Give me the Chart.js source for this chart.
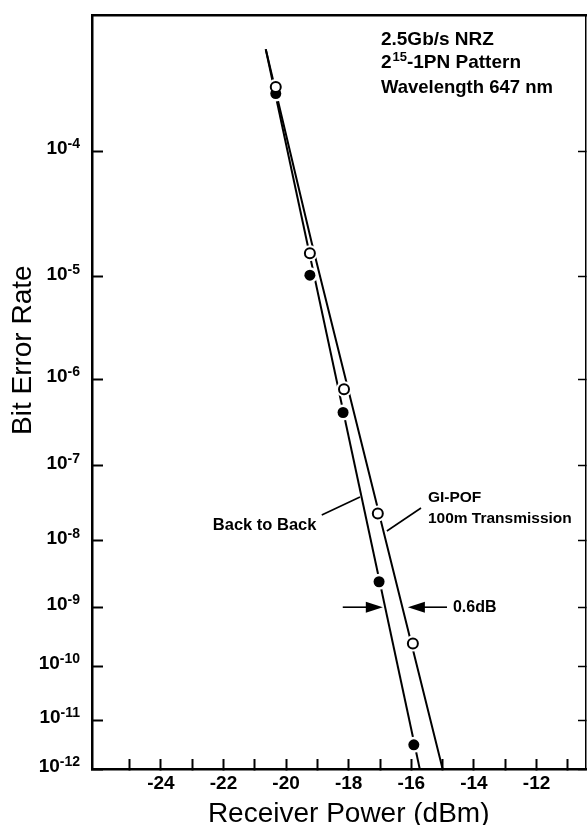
<!DOCTYPE html>
<html>
<head>
<meta charset="utf-8">
<script src="https://cdn.jsdelivr.net/npm/chart.js@4/dist/chart.umd.min.js"></script>
<style>
  body { margin: 0; background: #fff; }
  canvas { display: block; }
</style>
</head>
<body>
<canvas id="berChart" width="588" height="825"></canvas>
<script>
// Datos (BER vs potencia recibida)
const b2bPower = [-20.33, -19.24, -18.18, -17.03, -15.92];
const b2bBer = [2.45e-4, 1.03e-5, 4.3e-7, 2.5e-9, 3.2e-12];
const pofPower = [-20.33, -19.24, -18.15, -17.07, -15.95];
const pofBer = [2.7e-4, 1.6e-5, 7.8e-7, 2.4e-8, 2.5e-10];

// Rectas de ajuste dibujadas a mano en el original
const b2bFitPower = [-20.65, -15.73];
const b2bFitBer = [4.6e-4, 1e-12];
const pofFitPower = [-20.65, -19.18, -15.0];
const pofFitBer = [4.6e-4, 1.95e-5, 1e-12];

// Ejes
const powerTicks = [-25, -24, -23, -22, -21, -20, -19, -18, -17, -16, -15, -14, -13, -12, -11];
const berTicks = [1e-4, 1e-5, 1e-6, 1e-7, 1e-8, 1e-9, 1e-10, 1e-11, 1e-12];
const berExponents = ['-4', '-5', '-6', '-7', '-8', '-9', '-10', '-11', '-12'];

const FONT = '"Liberation Sans", Arial, Helvetica, sans-serif';

// escala BER: log10(-log10(BER)) como en el papel de error
const berT = v => -Math.log10(-Math.log10(v));
const berInv = t => Math.pow(10, -Math.pow(10, -t));

class BerScale extends Chart.Scale {
  determineDataLimits() {
    this.min = this.options.min;
    this.max = this.options.max;
  }
  buildTicks() {
    return berTicks.map(v => ({ value: v }));
  }
  getLabelForValue(v) {
    return v.toExponential(1);
  }
  configure() {
    super.configure();
    this._startValue = berT(this.min);
    this._valueRange = berT(this.max) - berT(this.min);
  }
  getPixelForValue(v) {
    if (v === null || v === undefined || isNaN(v)) return NaN;
    return this.getPixelForDecimal((berT(v) - this._startValue) / this._valueRange);
  }
  getValueForPixel(p) {
    return berInv(this._startValue + this.getDecimalForPixel(p) * this._valueRange);
  }
}
BerScale.id = 'ber';
BerScale.defaults = {};
Chart.register(BerScale);

const pts = (xs, ys) => xs.map((x, i) => ({ x: x, y: ys[i] }));

// tamaño fijo de cada eje, sin márgenes extra por las etiquetas
const fixSize = (w, h) => s => {
  if (w !== null) s.width = w;
  if (h !== null) s.height = h;
  s.paddingTop = s.paddingBottom = s.paddingLeft = s.paddingRight = 0;
};

// textos, líneas guía y flechas (en unidades de datos)
const notes = [
  { text: '2.5Gb/s NRZ', x: -16.97, y: 4.9e-4, font: 'bold 19px ' + FONT },
  { text: '2', sup: '15', after: '-1PN Pattern', x: -16.97, y: 3.55e-4, font: 'bold 19px ' + FONT },
  { text: 'Wavelength 647 nm', x: -16.97, y: 2.47e-4, font: 'bold 18.5px ' + FONT },
  { text: 'Back to Back', x: -22.34, y: 1.43e-8, font: 'bold 16.5px ' + FONT },
  { text: 'GI-POF', x: -15.47, y: 3.4e-8, font: 'bold 15.5px ' + FONT },
  { text: '100m Transmission', x: -15.47, y: 1.78e-8, font: 'bold 15.5px ' + FONT },
  { text: '0.6dB', x: -14.67, y: 1.0e-9, font: 'bold 16px ' + FONT, middle: true }
];
const yTitle = { text: 'Bit Error Rate', dx: 23, y: 2.0e-6, font: '28px ' + FONT };
const xTitle = { text: 'Receiver Power (dBm)', x: -18.0, dy: -3, font: '28px ' + FONT };
const leaders = [
  { x1: -18.86, y1: 2.3e-8, x2: -17.64, y2: 4.0e-8 },
  { x1: -15.69, y1: 2.85e-8, x2: -16.78, y2: 1.38e-8 }
];
const arrows = [
  { from: -18.19, to: -16.91, y: 1.0e-9 },
  { from: -14.86, to: -16.11, y: 1.0e-9 }
];

const notesPlugin = {
  id: 'notes',
  afterDatasetsDraw(chart) {
    const { ctx } = chart;
    const x = chart.scales.x, y = chart.scales.y;
    ctx.save();
    ctx.fillStyle = '#000';
    ctx.strokeStyle = '#000';

    // etiquetas 10^n del eje Y con exponente elevado
    ctx.textAlign = 'right';
    ctx.textBaseline = 'alphabetic';
    berTicks.forEach((v, i) => {
      const py = y.getPixelForValue(v);
      const right = y.right - 12;
      ctx.font = 'bold 14px ' + FONT;
      const ew = ctx.measureText(berExponents[i]).width;
      ctx.fillText(berExponents[i], right, py - 3);
      ctx.font = 'bold 19px ' + FONT;
      ctx.fillText('10', right - ew, py + 3);
    });

    ctx.textAlign = 'left';
    notes.forEach(n => {
      let px = x.getPixelForValue(n.x);
      const py = y.getPixelForValue(n.y);
      ctx.font = n.font;
      ctx.textBaseline = n.middle ? 'middle' : 'alphabetic';
      ctx.fillText(n.text, px, py);
      if (n.sup) {
        px += ctx.measureText(n.text).width + 1;
        ctx.font = 'bold 13px ' + FONT;
        ctx.fillText(n.sup, px, py - 7);
        px += ctx.measureText(n.sup).width;
        ctx.font = n.font;
        ctx.fillText(n.after, px, py);
      }
    });

    // títulos de los ejes (no centrados en el original)
    ctx.font = xTitle.font;
    ctx.textAlign = 'center';
    ctx.textBaseline = 'alphabetic';
    ctx.fillText(xTitle.text, x.getPixelForValue(xTitle.x), x.bottom + xTitle.dy);

    ctx.save();
    ctx.translate(y.left + yTitle.dx, y.getPixelForValue(yTitle.y));
    ctx.rotate(-Math.PI / 2);
    ctx.font = yTitle.font;
    ctx.textAlign = 'center';
    ctx.textBaseline = 'middle';
    ctx.fillText(yTitle.text, 0, 0);
    ctx.restore();

    ctx.lineWidth = 1.6;
    leaders.forEach(l => {
      ctx.beginPath();
      ctx.moveTo(x.getPixelForValue(l.x1), y.getPixelForValue(l.y1));
      ctx.lineTo(x.getPixelForValue(l.x2), y.getPixelForValue(l.y2));
      ctx.stroke();
    });
    arrows.forEach(a => {
      const x0 = x.getPixelForValue(a.from), x1 = x.getPixelForValue(a.to);
      const py = y.getPixelForValue(a.y);
      const dir = Math.sign(x1 - x0);
      ctx.beginPath();
      ctx.moveTo(x0, py);
      ctx.lineTo(x1 - dir * 10, py);
      ctx.stroke();
      ctx.beginPath();
      ctx.moveTo(x1, py);
      ctx.lineTo(x1 - dir * 17, py - 5.5);
      ctx.lineTo(x1 - dir * 17, py + 5.5);
      ctx.closePath();
      ctx.fill();
    });
    ctx.restore();
  }
};

const berChart = new Chart(document.getElementById('berChart'), {
  type: 'line',
  data: {
    datasets: [
      {
        label: 'GI-POF 100m',
        data: pts(pofPower, pofBer),
        showLine: false,
        pointRadius: 5,
        pointBorderWidth: 2,
        pointBackgroundColor: '#fff',
        pointBorderColor: '#000',
        order: 0
      },
      {
        label: 'Back to Back',
        data: pts(b2bPower, b2bBer),
        showLine: false,
        pointRadius: 5.5,
        pointBorderWidth: 0,
        pointBackgroundColor: '#000',
        pointBorderColor: '#000',
        order: 1
      },
      {
        // huecos blancos alrededor de los marcadores
        label: 'halo pof',
        data: pts(pofPower, pofBer),
        showLine: false,
        pointRadius: 8,
        pointBorderWidth: 0,
        pointBackgroundColor: '#fff',
        order: 2
      },
      {
        label: 'halo b2b',
        data: pts(b2bPower, b2bBer),
        showLine: false,
        pointRadius: 8,
        pointBorderWidth: 0,
        pointBackgroundColor: '#fff',
        order: 2
      },
      {
        label: 'ajuste b2b',
        data: pts(b2bFitPower, b2bFitBer),
        borderColor: '#000',
        borderWidth: 2,
        pointRadius: 0,
        order: 3
      },
      {
        label: 'ajuste pof',
        data: pts(pofFitPower, pofFitBer),
        borderColor: '#000',
        borderWidth: 2,
        pointRadius: 0,
        order: 3
      }
    ]
  },
  options: {
    responsive: false,
    animation: false,
    events: [],
    layout: { padding: 0, autoPadding: false },
    plugins: {
      legend: { display: false },
      tooltip: { enabled: false }
    },
    scales: {
      x: {
        type: 'linear',
        position: 'bottom',
        min: -26.2,
        max: -10.42,
        afterBuildTicks: s => { s.ticks = powerTicks.map(v => ({ value: v })); },
        afterFit: fixSize(null, 56),
        grid: { drawOnChartArea: false, tickLength: -10, tickWidth: 2, tickColor: '#000' },
        border: { color: '#000', width: 2.5 },
        ticks: {
          autoSkip: false,
          maxRotation: 0,
          padding: 13,
          color: '#000',
          font: { family: FONT, size: 19, weight: 'bold' },
          callback: v => (v % 2 === 0 ? String(v) : '')
        }
      },
      xTop: {
        type: 'linear',
        position: 'top',
        min: -26.2,
        max: -10.42,
        afterFit: fixSize(null, 15),
        grid: { drawOnChartArea: false, drawTicks: false },
        border: { color: '#000', width: 2.5 },
        ticks: { display: false }
      },
      y: {
        type: 'ber',
        position: 'left',
        min: 1e-12,
        max: 7.24e-4,
        afterFit: fixSize(92, null),
        grid: { drawOnChartArea: false, tickLength: -11, tickWidth: 2, tickColor: '#000' },
        border: { color: '#000', width: 2.5 },
        ticks: { display: false, autoSkip: false }
      },
      yRight: {
        type: 'ber',
        position: 'right',
        min: 1e-12,
        max: 7.24e-4,
        afterFit: fixSize(2, null),
        grid: { drawOnChartArea: false, tickLength: -8, tickWidth: 1.5, tickColor: '#000' },
        border: { color: '#000', width: 1.5 },
        ticks: { display: false, autoSkip: false }
      }
    }
  },
  plugins: [notesPlugin]
});
</script>
</body>
</html>
